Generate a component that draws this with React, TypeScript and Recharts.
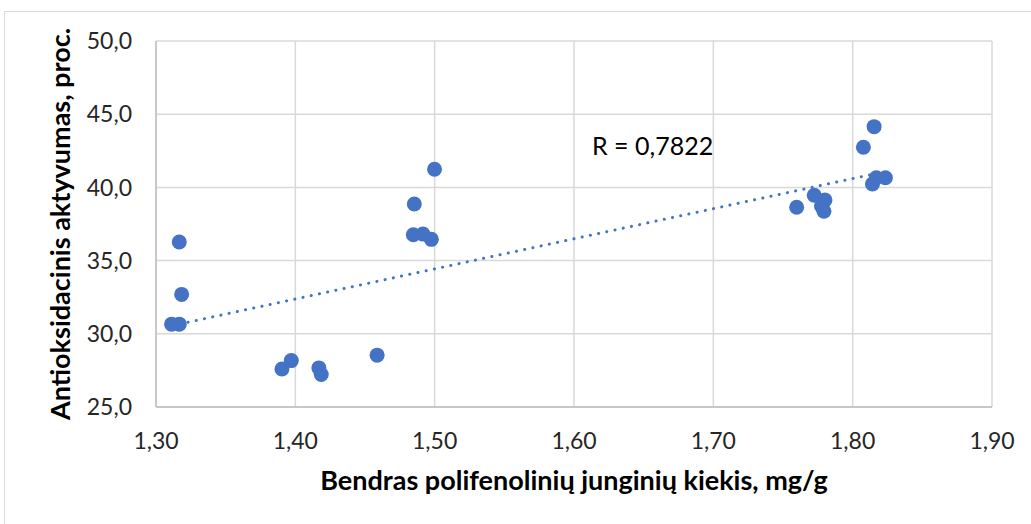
import {
    ScatterChart,
    Scatter,
    XAxis,
    YAxis,
    CartesianGrid,
    ReferenceLine,
    Label
} from "recharts";

// polyphenol content, mg/g
const xValues = [
    1.3167, 1.3184, 1.3112, 1.3167, 1.3904, 1.3971, 1.4169, 1.4186, 1.4587,
    1.4854, 1.4847, 1.4916, 1.4976, 1.4999,
    1.7598, 1.7724, 1.7801, 1.7776, 1.7794,
    1.8154, 1.8077, 1.8170, 1.8235, 1.8142
];

// antioxidant activity, %
const yValues = [
    36.27, 32.69, 30.66, 30.66, 27.6, 28.17, 27.67, 27.22, 28.54,
    38.87, 36.77, 36.81, 36.45, 41.24,
    38.64, 39.46, 39.14, 38.73, 38.37,
    44.15, 42.74, 40.66, 40.66, 40.23
];

const xTicks = [1.3, 1.4, 1.5, 1.6, 1.7, 1.8, 1.9];
const yTicks = [25, 30, 35, 40, 45, 50];

const points = xValues.map((x, i) => ({ x, y: yValues[i] }));

// least squares trendline
const n = points.length;
const mx = xValues.reduce((a, b) => a + b, 0) / n;
const my = yValues.reduce((a, b) => a + b, 0) / n;
let sxy = 0;
let sxx = 0;
points.forEach(p => {
    sxy += (p.x - mx) * (p.y - my);
    sxx += (p.x - mx) * (p.x - mx);
});
const slope = sxy / sxx;
const intercept = my - slope * mx;
const xMin = Math.min(...xValues);
const xMax = Math.max(...xValues);

const font = "Lato, 'Open Sans', sans-serif";

export default function App() {
    return (
        <div style={{ position: "absolute", left: 0, top: 0, width: 1031, height: 524, background: "#fff", fontFamily: font, overflow: "hidden" }}>
            <div style={{ position: "absolute", left: 4, top: 11, width: 1040, height: 530, border: "1px solid #d9d9d9" }} />
            <ScatterChart width={1031} height={524} margin={{ top: 41, right: 39, left: 96, bottom: 77 }}>
                <CartesianGrid stroke="#d9d9d9" strokeWidth={1.5} />
                <XAxis
                    type="number"
                    dataKey="x"
                    domain={[1.3, 1.9]}
                    ticks={xTicks}
                    height={40}
                    stroke="#bfbfbf"
                    strokeWidth={1.5}
                    tickLine={false}
                    tick={{ fill: "#262626", fontSize: 23, fontFamily: font }}
                    tickMargin={20}
                    tickFormatter={(v: number) => v.toFixed(2).replace(".", ",")}
                >
                    <Label value="Bendras polifenolinių junginių kiekis, mg/g" position="bottom" offset={24} style={{ fill: "#000", fontSize: 27, fontWeight: 700, fontFamily: font }} />
                </XAxis>
                <YAxis
                    type="number"
                    dataKey="y"
                    domain={[25, 50]}
                    ticks={yTicks}
                    width={60}
                    stroke="#bfbfbf"
                    strokeWidth={1.5}
                    tickLine={false}
                    tick={{ fill: "#262626", fontSize: 23, fontFamily: font }}
                    tickMargin={18}
                    tickFormatter={(v: number) => v.toFixed(1).replace(".", ",")}
                >
                    <Label value="Antioksidacinis aktyvumas, proc." angle={-90} position="left" offset={36} style={{ fill: "#000", fontSize: 27, fontWeight: 700, fontFamily: font, textAnchor: "middle" }} />
                </YAxis>
                <ReferenceLine
                    segment={[
                        { x: xMin, y: intercept + slope * xMin },
                        { x: xMax, y: intercept + slope * xMax }
                    ]}
                    stroke="#4472C4"
                    strokeWidth={3}
                    strokeDasharray="0.1 8.3"
                    strokeLinecap="round"
                    ifOverflow="visible"
                />
                <Scatter data={points} fill="#4472C4" isAnimationActive={false} shape={(p: any) => <circle cx={p.cx} cy={p.cy} r={7.5} fill="#4472C4" />} />
            </ScatterChart>
            <div style={{ position: "absolute", left: 592, top: 130, fontSize: 25, color: "#000", fontFamily: font, whiteSpace: "nowrap" }}>R = 0,7822</div>
        </div>
    );
}
